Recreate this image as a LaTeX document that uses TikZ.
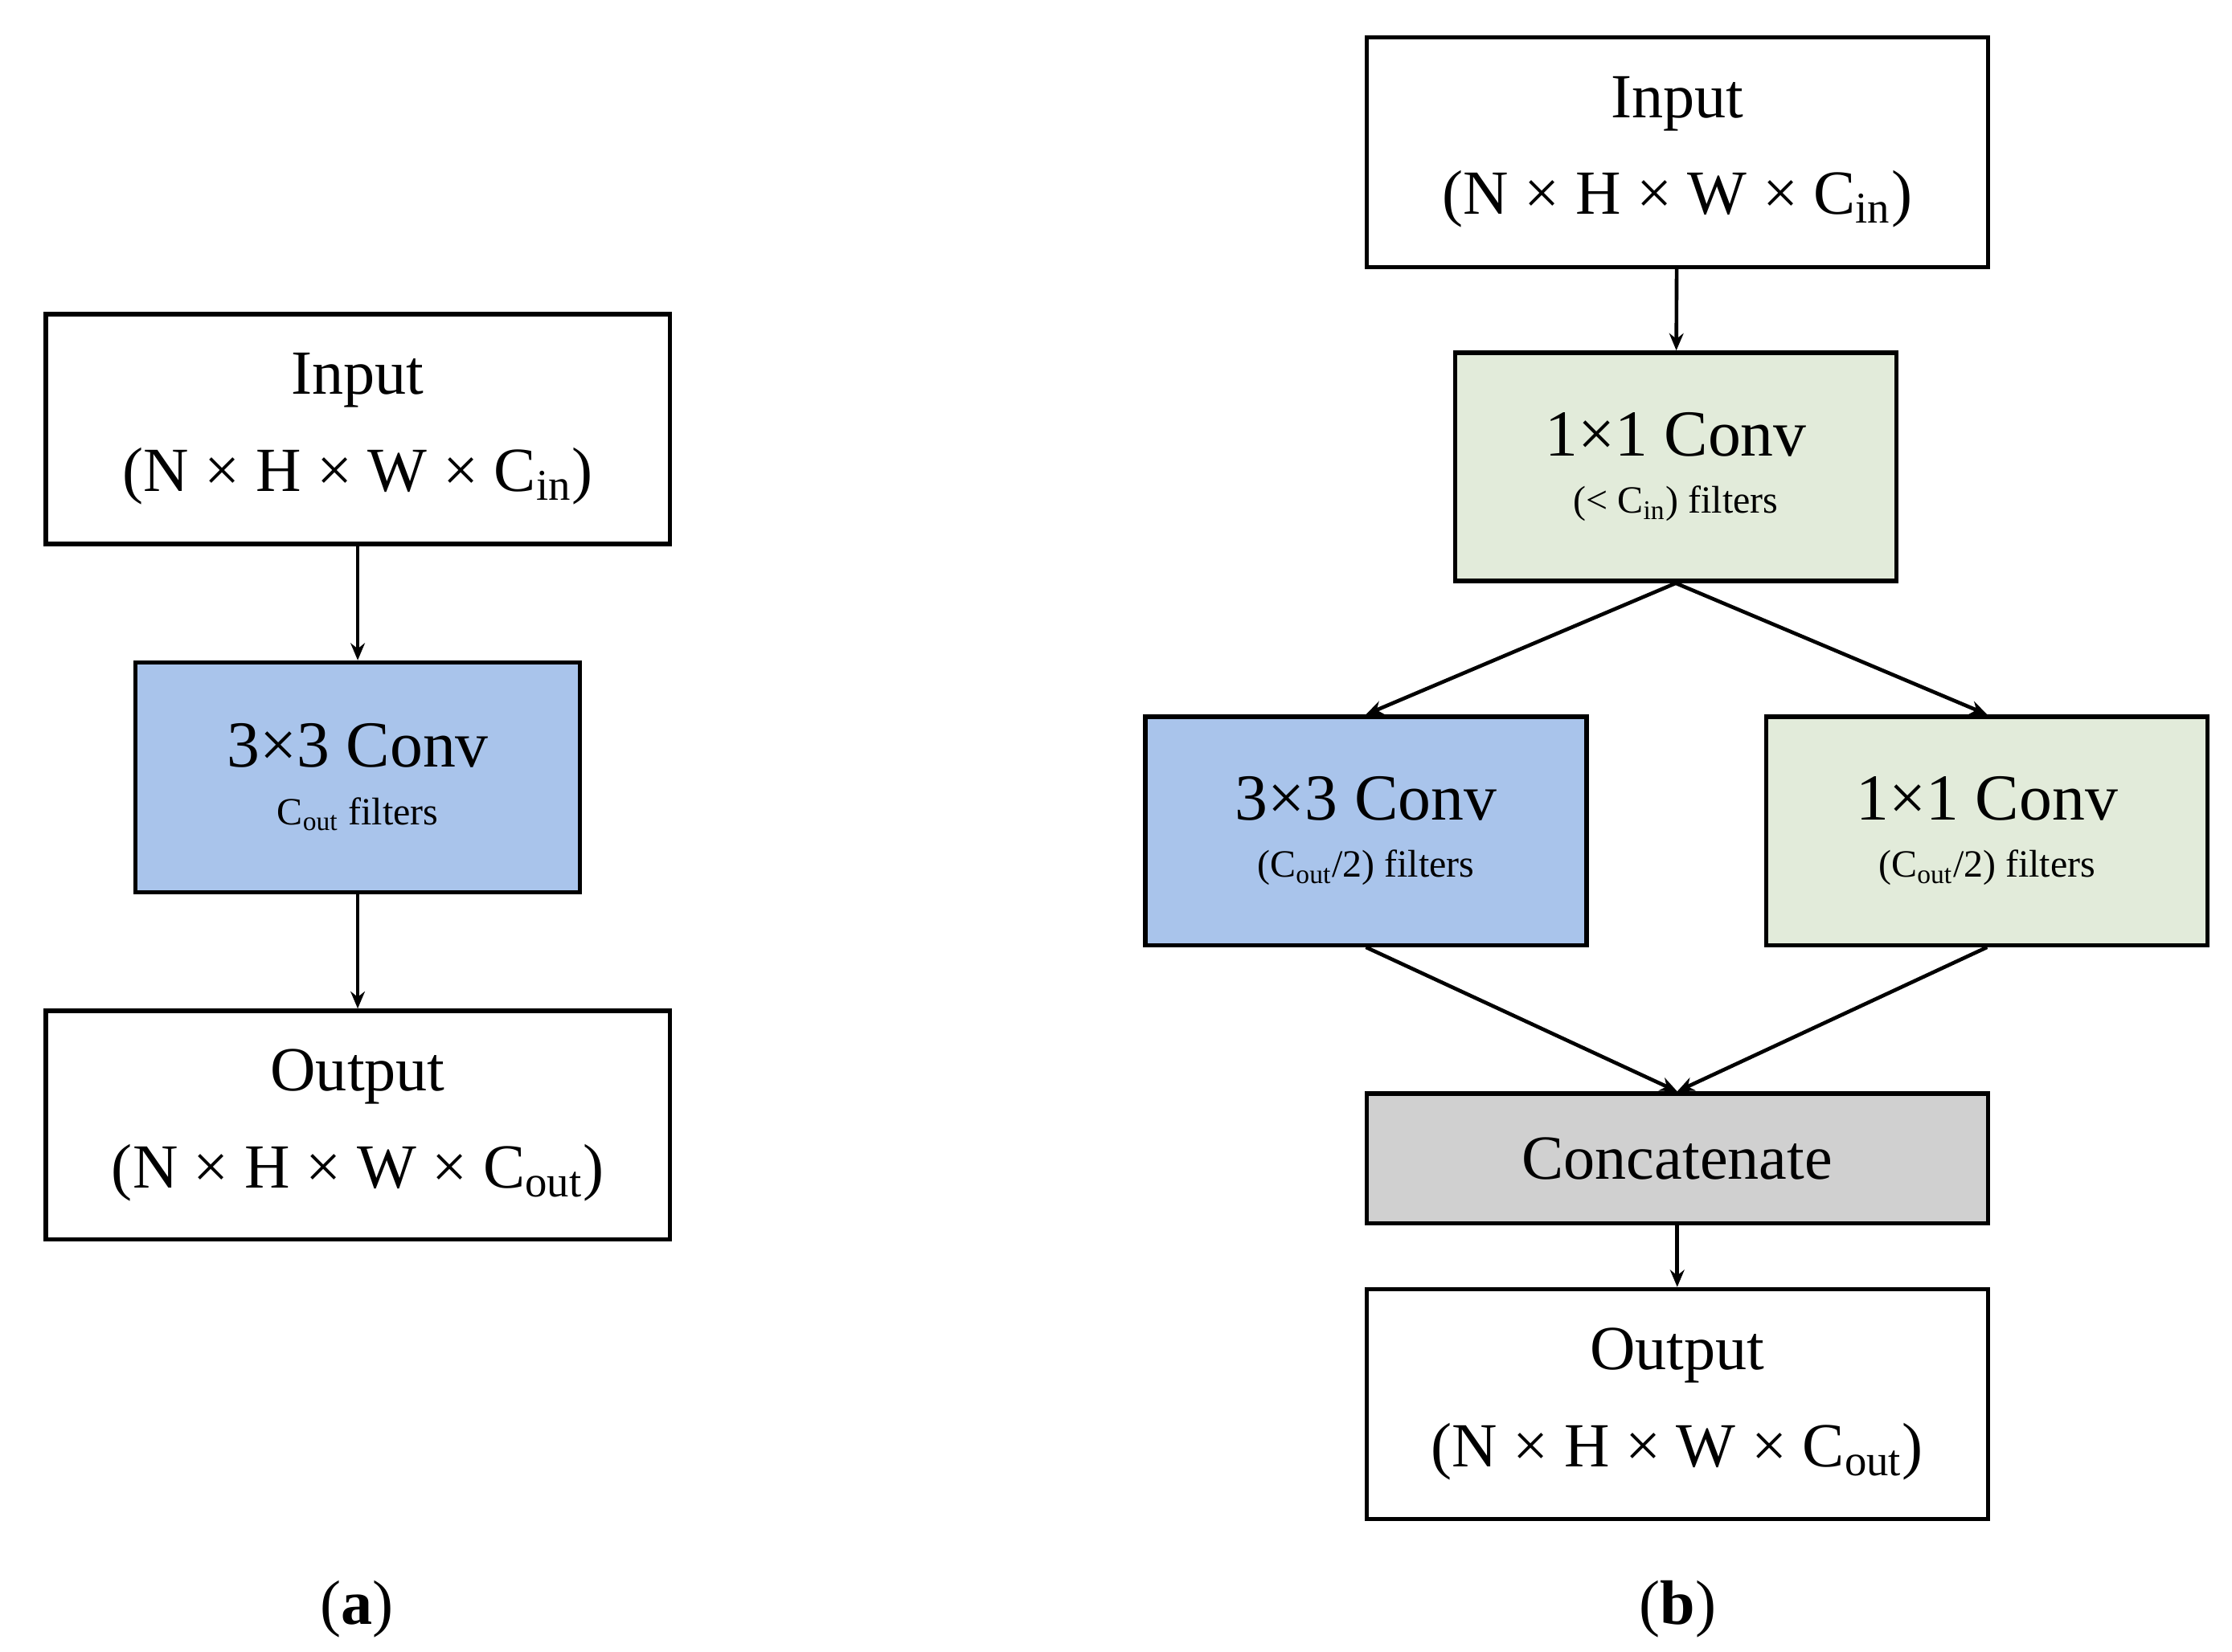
\documentclass[tikz,border=0pt]{standalone}
\usepackage{fontspec}
\setmainfont{Liberation Serif}
\usetikzlibrary{arrows.meta}
\definecolor{cblue}{HTML}{A9C4EB}
\definecolor{cgreen}{HTML}{E2EBDA}
\definecolor{cgray}{HTML}{D0D0D0}
\begin{document}
\begin{tikzpicture}[x=0.5pt,y=-0.5pt,
  box/.style={draw,line width=1.5pt,inner sep=0pt,align=center},
  big/.style={font=\fontsize{22}{28}\selectfont},
  arr/.style={line width=1.3pt,-{Stealth[length=6pt,width=5pt]}}]
\useasboundingbox (0,0) rectangle (1563,1157);
% (a)
\node[box,minimum width=218.5pt,minimum height=80.5pt,big] (ain) at (250.5,300.5)
  {Input\\[6pt](N × H × W × C\textsubscript{in})};
\node[box,fill=cblue,minimum width=155.5pt,minimum height=80.5pt] (aconv) at (250.5,544.5)
  {{\fontsize{23}{28}\selectfont 3×3 Conv}\\[8pt]{\fontsize{13.5}{16}\selectfont C\textsubscript{out} filters}};
\node[box,minimum width=218.5pt,minimum height=80pt,big] (aout) at (250.5,788)
  {Output\\[6pt](N × H × W × C\textsubscript{out})};
\draw[arr] (ain) -- (aconv);
\draw[arr] (aconv) -- (aout);
\node[big] (la) at (250,1127) {(\textbf{a})};
% (b)
\node[box,minimum width=217.5pt,minimum height=80.5pt,big] (bin) at (1174.5,106.5)
  {Input\\[6pt](N × H × W × C\textsubscript{in})};
\node[box,fill=cgreen,minimum width=154.5pt,minimum height=80pt] (b1) at (1173.5,327)
  {{\fontsize{23}{28}\selectfont 1×1 Conv}\\[8pt]{\fontsize{13.5}{16}\selectfont (< C\textsubscript{in}) filters}};
\node[box,fill=cblue,minimum width=154.5pt,minimum height=80pt] (b3) at (956.5,582)
  {{\fontsize{23}{28}\selectfont 3×3 Conv}\\[8pt]{\fontsize{13.5}{16}\selectfont (C\textsubscript{out}/2) filters}};
\node[box,fill=cgreen,minimum width=154.5pt,minimum height=80pt] (b1r) at (1391.5,582)
  {{\fontsize{23}{28}\selectfont 1×1 Conv}\\[8pt]{\fontsize{13.5}{16}\selectfont (C\textsubscript{out}/2) filters}};
\node[box,fill=cgray,minimum width=217.5pt,minimum height=45.5pt,big] (bcat) at (1174.5,811.5) {Concatenate};
\node[box,minimum width=217.5pt,minimum height=80.5pt,big] (bout) at (1174.5,983.5)
  {Output\\[6pt](N × H × W × C\textsubscript{out})};
\draw[arr] (bin) -- (b1);
\draw[arr] (b1.south) -- (b3.north);
\draw[arr] (b1.south) -- (b1r.north);
\draw[arr] (b3.south) -- (bcat.north);
\draw[arr] (b1r.south) -- (bcat.north);
\draw[arr] (bcat) -- (bout);
\node[big] (lb) at (1175,1127) {(\textbf{b})};
\end{tikzpicture}
\end{document}
